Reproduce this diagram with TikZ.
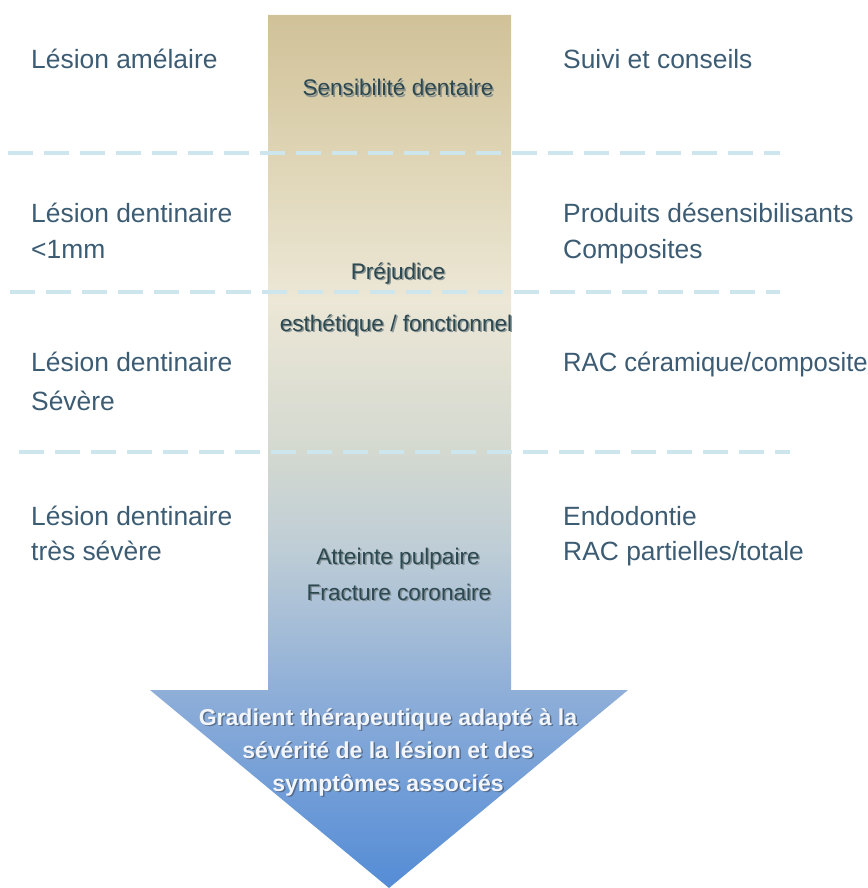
\documentclass[tikz,border=0pt]{standalone}
\usepackage{fontspec}
\setmainfont{Liberation Sans}
\definecolor{cT}{RGB}{208,193,152}
\definecolor{c150}{RGB}{222,212,180}
\definecolor{c300}{RGB}{236,231,214}
\definecolor{c450}{RGB}{212,217,208}
\definecolor{c550}{RGB}{190,205,214}
\definecolor{c700}{RGB}{140,173,216}
\definecolor{cB}{RGB}{84,140,214}
\definecolor{sidetext}{RGB}{60,92,116}
\definecolor{midtext}{RGB}{44,72,80}
\definecolor{midshadow}{RGB}{120,132,134}
\definecolor{headtext}{RGB}{242,245,250}
\definecolor{headshadow}{RGB}{70,85,110}
\definecolor{dashcol}{RGB}{205,230,238}
\pgfdeclareverticalshading{arrowshade}{100bp}{color(0bp)=(cB); color(25bp)=(cB); color(35.77bp)=(c700); color(44.36bp)=(c550); color(50.09bp)=(c450); color(58.68bp)=(c300); color(67.27bp)=(c150); color(75bp)=(cT); color(100bp)=(cT)}
\tikzset{
  sidelabel/.style={anchor=base west, inner sep=0pt, text=sidetext, font=\fontsize{26.4}{36}\selectfont},
  midlabel/.style={anchor=base, inner sep=0pt, text=midtext, font=\fontsize{22.6}{28}\selectfont},
  midshade/.style={anchor=base, inner sep=0pt, text=midshadow, opacity=0.8, font=\fontsize{22.6}{28}\selectfont},
  headlabel/.style={anchor=base, inner sep=0pt, text=headtext, font=\bfseries\fontsize{23}{28}\selectfont},
  headshade/.style={anchor=base, inner sep=0pt, text=headshadow, opacity=0.7, font=\bfseries\fontsize{23}{28}\selectfont},
  sepline/.style={draw=dashcol, line width=3.5pt, dash pattern=on 25pt off 11pt}
}
\begin{document}
\begin{tikzpicture}[x=1pt,y=-1pt]
\clip (0,0) rectangle (867,888);
\fill[white] (0,0) rectangle (867,888);
% arrow
\coordinate (tl) at (268,15);
\coordinate (tr) at (511,15);
\coordinate (br) at (511,690);
\coordinate (hr) at (628,690);
\coordinate (tip) at (389,888);
\coordinate (hl) at (150,690);
\coordinate (bl) at (268,690);
\shade[shading=arrowshade] (tl) -- (tr) -- (br) -- (hr) -- (tip) -- (hl) -- (bl) -- cycle;
% dashed separators
\coordinate (d1a) at (8,153); \coordinate (d1b) at (780,153);
\coordinate (d2a) at (10,292); \coordinate (d2b) at (780,292);
\coordinate (d3a) at (19,452); \coordinate (d3b) at (790,452);
\draw[sepline] (d1a) -- (d1b);
\draw[sepline] (d2a) -- (d2b);
\draw[sepline] (d3a) -- (d3b);
% left column
\node[sidelabel] (l1a) at (31,69) {Lésion amélaire};
\node[sidelabel] (l2a) at (31,222) {Lésion dentinaire};
\node[sidelabel] (l2b) at (31,258) {<1mm};
\node[sidelabel] (l3a) at (31,371) {Lésion dentinaire};
\node[sidelabel] (l3b) at (31,410) {Sévère};
\node[sidelabel] (l4a) at (31,525) {Lésion dentinaire};
\node[sidelabel] (l4b) at (31,560) {très sévère};
% right column
\node[sidelabel] (r1a) at (563,69) {Suivi et conseils};
\node[sidelabel] (r2a) at (563,222) {Produits désensibilisants};
\node[sidelabel] (r2b) at (563,258) {Composites};
\node[sidelabel, xscale=0.97] (r3a) at (563,371) {RAC céramique/composite};
\node[sidelabel] (r4a) at (563,525) {Endodontie};
\node[sidelabel] (r4b) at (563,560) {RAC partielles/totale};
% centre labels
\node[midshade] (m1s) at (399.5,97.5) {Sensibilité dentaire};
\node[midlabel] (m1) at (398,96) {Sensibilité dentaire};
\node[midshade] (m2s) at (399.5,280.5) {Préjudice};
\node[midlabel] (m2) at (398,279) {Préjudice};
\node[midshade] (m3s) at (397.5,332.5) {esthétique / fonctionnel};
\node[midlabel] (m3) at (396,331) {esthétique / fonctionnel};
\node[midshade] (m4s) at (399.5,565.5) {Atteinte pulpaire};
\node[midlabel] (m4) at (398,564) {Atteinte pulpaire};
\node[midshade] (m5s) at (400.5,601.5) {Fracture coronaire};
\node[midlabel] (m5) at (399,600) {Fracture coronaire};
% head labels
\node[headshade] (h1s) at (389.5,726.5) {Gradient thérapeutique adapté à la};
\node[headlabel] (h1) at (388,725) {Gradient thérapeutique adapté à la};
\node[headshade] (h2s) at (389.5,759.5) {sévérité de la lésion et des};
\node[headlabel] (h2) at (388,758) {sévérité de la lésion et des};
\node[headshade] (h3s) at (389.5,792.5) {symptômes associés};
\node[headlabel] (h3) at (388,791) {symptômes associés};
\end{tikzpicture}
\end{document}
